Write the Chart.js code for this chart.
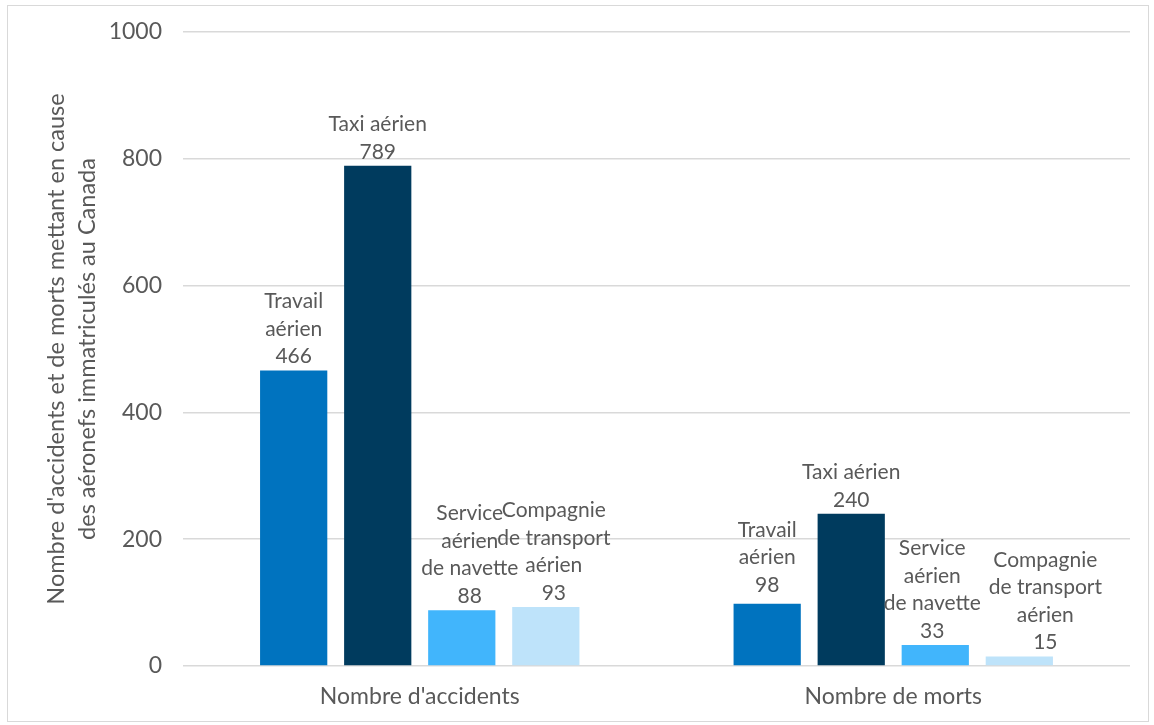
<!DOCTYPE html>
<html>
<head>
<meta charset="utf-8">
<script src="https://cdn.jsdelivr.net/npm/chart.js@4"></script>
<style>
  body { margin: 0; background: #fff; }
  #wrap { position: absolute; left: 7px; top: 5px; width: 1140px; height: 715px; border: 1px solid #d9d9d9; }
</style>
</head>
<body>
<div id="wrap"><canvas id="myChart" width="1140" height="715"></canvas></div>
<script>
// Categories and series
const categories = ["Nombre d'accidents", 'Nombre de morts'];
const seriesNames = [
  ['Travail', 'aérien'],
  ['Taxi aérien'],
  ['Service', 'aérien', 'de navette'],
  ['Compagnie', 'de transport', 'aérien']
];
const travailAerien = [466, 98];
const taxiAerien = [789, 240];
const serviceNavette = [88, 33];
const compagnieTransport = [93, 15];
const yTicks = [0, 200, 400, 600, 800, 1000];

const seriesValues = [travailAerien, taxiAerien, serviceNavette, compagnieTransport];
const colors = ['#0073BF', '#003B5E', '#41B5FC', '#BEE3FA'];

const textColor = '#595959';
const fontFamily = 'Lato, "Open Sans", sans-serif';

// Draws "series name + value" above each bar, like the Excel data labels
const barLabels = {
  id: 'barLabels',
  afterDatasetsDraw(chart, args, opts) {
    const ctx = chart.ctx;
    ctx.save();
    ctx.font = '21px ' + fontFamily;
    ctx.fillStyle = textColor;
    ctx.textAlign = 'center';
    ctx.textBaseline = 'middle';
    chart.data.datasets.forEach((ds, i) => {
      chart.getDatasetMeta(i).data.forEach((bar, j) => {
        const lines = seriesNames[i].concat([String(ds.data[j])]);
        const shift = opts.shifts[i + '-' + j] || [0, 0];
        let y = bar.y - opts.gap + shift[1];
        for (let k = lines.length - 1; k >= 0; k--) {
          ctx.fillText(lines[k], bar.x + shift[0], y);
          y -= opts.lineHeight;
        }
      });
    });
    ctx.restore();
  }
};

const ctx = document.getElementById('myChart').getContext('2d');
const myChart = new Chart(ctx, {
  type: 'bar',
  data: {
    labels: categories,
    datasets: seriesValues.map((vals, i) => ({
      label: seriesNames[i].join(' '),
      data: vals,
      backgroundColor: colors[i],
      categoryPercentage: 0.71,
      barPercentage: 0.8
    }))
  },
  options: {
    responsive: false,
    animation: false,
    layout: { padding: { top: 26, right: 18, bottom: 0, left: 0 } },
    plugins: {
      legend: { display: false },
      tooltip: { enabled: false },
      barLabels: {
        gap: 14,
        lineHeight: 27.5,
        shifts: { '2-0': [8, 0], '3-0': [8, 0], '2-1': [-3, 0], '3-1': [26, 0], '0-1': [0, -5] }
      }
    },
    scales: {
      x: {
        grid: { display: false },
        border: { display: false },
        ticks: { color: textColor, font: { family: fontFamily, size: 23 }, padding: 9 },
        afterFit(scale) { scale.height = 55; }
      },
      y: {
        min: 0,
        max: 1000,
        afterBuildTicks(scale) { scale.ticks = yTicks.map(v => ({ value: v })); },
        grid: { color: '#d9d9d9', lineWidth: 1.5, drawTicks: false },
        border: { display: false },
        ticks: {
          color: textColor,
          font: { family: fontFamily, size: 23 },
          padding: 21,
          callback: (v) => String(v)
        },
        title: {
          display: true,
          text: ["Nombre d'accidents et de morts mettant en cause", 'des aéronefs immatriculés au Canada'],
          color: textColor,
          font: { family: fontFamily, size: 23.5, lineHeight: 1.32 },
          padding: { top: 33, bottom: 0 }
        },
        afterFit(scale) {
          scale.width = 175;
          scale.paddingTop = 0;
          scale.paddingBottom = 0;
        }
      }
    }
  },
  plugins: [barLabels]
});
</script>
</body>
</html>
